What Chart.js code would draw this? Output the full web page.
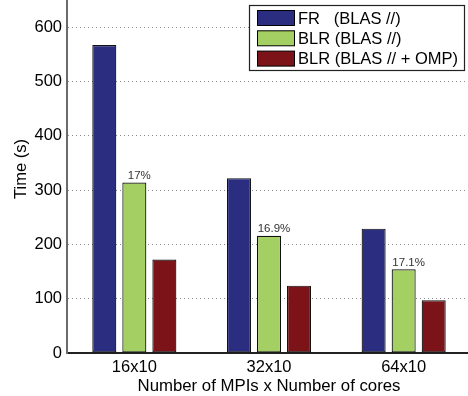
<!DOCTYPE html>
<html>
<head>
<meta charset="utf-8">
<script src="https://cdn.jsdelivr.net/npm/chart.js@4/dist/chart.umd.min.js"></script>
<style>
  html, body { margin: 0; padding: 0; background: #fff; overflow: hidden; }
  #wrap { position: relative; width: 471px; height: 396px; }
</style>
</head>
<body>
<div id="wrap"><canvas id="chart"></canvas></div>
<script>
// Run configurations and wall-clock times (seconds)
const categories = ['16x10', '32x10', '64x10'];
const seriesNames = ['FR   (BLAS //)', 'BLR (BLAS //)', 'BLR (BLAS // + OMP)'];
const frBlas = [567, 322, 229];
const blrBlas = [314, 216, 154];
const blrBlasOmp = [172, 124, 97];
const blrRatioLabels = ['17%', '16.9%', '17.1%'];
const yTickValues = [0, 100, 200, 300, 400, 500, 600];
const yMax = 650;

const colors = ['#2b2e80', '#a4cf63', '#7c1318'];
const FONT = '"Liberation Sans", Arial, Helvetica, sans-serif';

// Percentage annotations above the BLR (BLAS //) bars
const ratioLabelPlugin = {
  id: 'ratioLabels',
  afterDatasetsDraw(chart) {
    const meta = chart.getDatasetMeta(1);
    const ctx = chart.ctx;
    ctx.save();
    ctx.font = '11.5px ' + FONT;
    ctx.fillStyle = '#333';
    ctx.textAlign = 'center';
    ctx.textBaseline = 'bottom';
    meta.data.forEach((bar, i) => {
      ctx.fillText(blrRatioLabels[i], bar.x + 5, bar.y - 1);
    });
    ctx.restore();
  }
};

// Boxed legend in the upper right corner of the plot
const boxLegendPlugin = {
  id: 'boxLegend',
  afterDraw(chart) {
    const ctx = chart.ctx;
    const x0 = 249, y0 = 5, w = 215, h = 65;
    ctx.save();
    ctx.fillStyle = '#fff';
    ctx.fillRect(x0, y0, w, h);
    ctx.strokeStyle = '#222';
    ctx.lineWidth = 1.2;
    ctx.strokeRect(x0 + 0.5, y0 + 0.5, w, h);
    ctx.font = '16.5px ' + FONT;
    ctx.textBaseline = 'middle';
    ctx.textAlign = 'left';
    chart.data.datasets.forEach((ds, i) => {
      const cy = 18 + i * 20.3;
      ctx.fillStyle = ds.backgroundColor;
      ctx.fillRect(257, cy - 7.5, 37, 15);
      ctx.strokeStyle = '#000';
      ctx.lineWidth = 1;
      ctx.strokeRect(257.5, cy - 7.5, 37, 15);
      ctx.fillStyle = '#000';
      ctx.fillText(ds.label, 298, cy + 1);
    });
    ctx.restore();
  }
};

// Rotated y-axis caption
const yCaptionPlugin = {
  id: 'yCaption',
  afterDraw(chart) {
    const ctx = chart.ctx;
    ctx.save();
    ctx.translate(21, 169);
    ctx.rotate(-Math.PI / 2);
    ctx.font = '16.5px ' + FONT;
    ctx.fillStyle = '#000';
    ctx.textAlign = 'center';
    ctx.textBaseline = 'middle';
    ctx.fillText('Time (s)', 0, 0);
    ctx.restore();
  }
};

const datasets = [frBlas, blrBlas, blrBlasOmp].map((values, i) => ({
  label: seriesNames[i],
  data: values,
  backgroundColor: colors[i],
  borderColor: '#111',
  borderWidth: 1.2,
  borderSkipped: false,
  categoryPercentage: 0.669,
  barPercentage: 0.8
}));

new Chart(document.getElementById('chart'), {
  type: 'bar',
  data: { labels: categories, datasets },
  options: {
    responsive: true,
    maintainAspectRatio: false,
    animation: false,
    layout: { padding: 0 },
    plugins: {
      legend: { display: false },
      tooltip: { enabled: false }
    },
    scales: {
      x: {
        grid: { display: false, drawTicks: false },
        border: { display: true, color: '#222', width: 2 },
        ticks: {
          color: '#000',
          font: { family: FONT, size: 16.5 },
          padding: 5,
          maxRotation: 0
        },
        title: {
          display: true,
          text: 'Number of MPIs x Number of cores',
          color: '#000',
          font: { family: FONT, size: 16.8 },
          padding: { top: 0, bottom: 0 }
        },
        afterFit(scale) {
          scale.height = 43;
          scale.paddingLeft = 0;
          scale.paddingRight = 0;
        }
      },
      y: {
        min: 0,
        max: yMax,
        afterBuildTicks(scale) {
          scale.ticks = yTickValues.map(v => ({ value: v }));
        },
        grid: { color: '#8a8a8a', lineWidth: 1, drawTicks: false },
        border: { display: true, color: '#6b6b6b', width: 2, dash: [1, 3] },
        ticks: {
          color: '#000',
          font: { family: FONT, size: 16.5 },
          padding: 5
        },
        afterFit(scale) {
          scale.width = 67;
          scale.paddingTop = 0;
          scale.paddingBottom = 0;
        }
      }
    }
  },
  plugins: [ratioLabelPlugin, boxLegendPlugin, yCaptionPlugin]
});
</script>
</body>
</html>
